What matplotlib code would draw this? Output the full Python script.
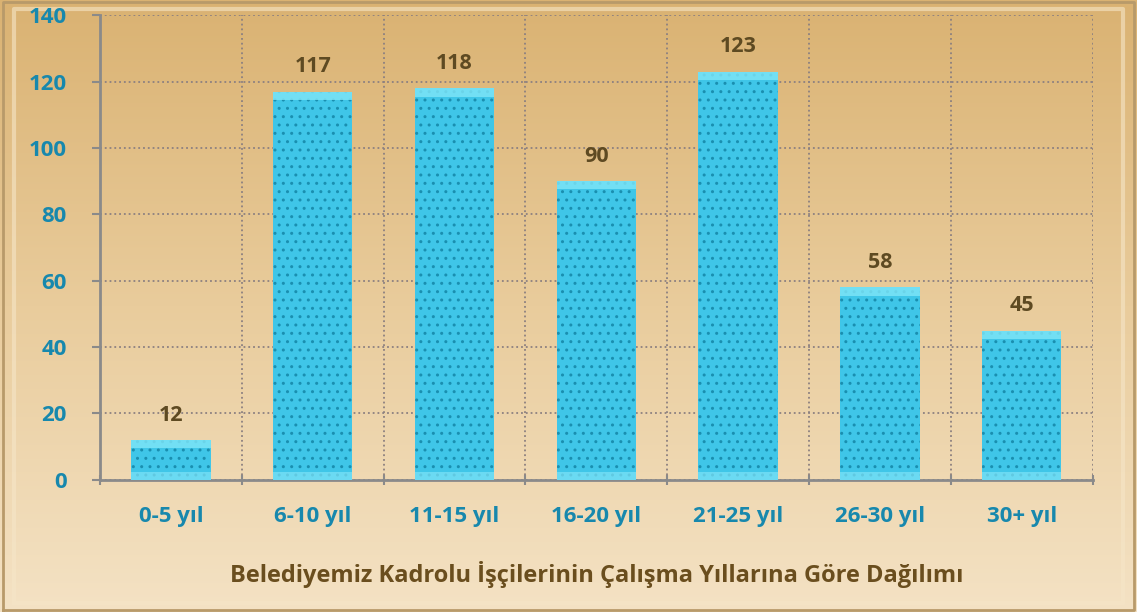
import matplotlib.pyplot as plt
import numpy as np
from matplotlib.colors import LinearSegmentedColormap

plt.rcParams['font.family'] = ['Open Sans', 'DejaVu Sans']

categories = ['0-5 yıl', '6-10 yıl', '11-15 yıl', '16-20 yıl', '21-25 yıl', '26-30 yıl', '30+ yıl']
values = [12, 117, 118, 90, 123, 58, 45]
title = 'Belediyemiz Kadrolu İşçilerinin Çalışma Yıllarına Göre Dağılımı'

fig = plt.figure(figsize=(11.37, 6.12), dpi=100)

# background: tan gradient, darker at top
bg = fig.add_axes([0, 0, 1, 1], zorder=-10)
grad = np.linspace(0, 1, 256).reshape(-1, 1)
cmap = LinearSegmentedColormap.from_list('tan', ['#dab272', '#e9cc9c', '#f4e2c4'])
bg.imshow(grad, aspect='auto', cmap=cmap, extent=[0, 1, 0, 1], origin='upper')
# bevel frame
bg.plot([0.003, 0.997, 0.997, 0.003, 0.003], [0.003, 0.003, 0.997, 0.997, 0.003],
        color='#b89a6a', lw=2)
bg.plot([0.012, 0.988, 0.988, 0.012, 0.012], [0.015, 0.015, 0.985, 0.985, 0.015],
        color='#f6e6c8', lw=3, alpha=0.6)
bg.set_xlim(0, 1)
bg.set_ylim(0, 1)
bg.axis('off')

ax = fig.add_axes([0.088, 0.216, 0.873, 0.759])
ax.patch.set_alpha(0)

x = np.arange(len(categories))
ax.bar(x, values, width=0.56, color='#3fc6e8', edgecolor='#1a8fb0',
       hatch='..', linewidth=0, zorder=3)
# lighter bevel strips at top and bottom of each bar
ax.bar(x, [min(2.5, v) for v in values], width=0.56, color='#7fe3f7', linewidth=0, zorder=4, alpha=0.7)
ax.bar(x, [2.5] * len(values), bottom=[v - 2.5 for v in values], width=0.56,
       color='#7fe6f8', linewidth=0, zorder=4, alpha=0.8)

for xi, v in zip(x, values):
    ax.text(xi, v + 7.5, str(v), ha='center', va='center', fontsize=15.5,
            fontweight='bold', color='#5e4a22')

ax.set_xlim(-0.5, len(categories) - 0.5)
ax.set_ylim(0, 140)
ax.set_yticks(np.arange(0, 141, 20))
ax.set_xticks(x)
ax.set_xticklabels(categories)
ax.set_xticks(np.arange(-0.5, len(categories)), minor=True)
ax.tick_params(axis='x', which='major', length=0, pad=19)
ax.tick_params(axis='x', which='minor', length=7, color='#8a8a8a', width=1.5, direction='inout')
ax.tick_params(axis='y', length=6, color='#8a8a8a', width=1.5, pad=18)
for lbl in ax.get_xticklabels() + ax.get_yticklabels():
    lbl.set_fontsize(16)
    lbl.set_fontweight('bold')
    lbl.set_color('#1788ad')

ax.grid(axis='y', which='major', linestyle=':', color='#8c8080', linewidth=1.3, zorder=1)
ax.grid(axis='x', which='minor', linestyle=':', color='#8c8080', linewidth=1.3, zorder=1)
ax.grid(axis='x', which='major', visible=False)

for side in ['top', 'right']:
    ax.spines[side].set_visible(False)
for side in ['left', 'bottom']:
    ax.spines[side].set_color('#8a8a8a')
    ax.spines[side].set_linewidth(2)

ax.set_xlabel(title, fontsize=17, fontweight='bold', color='#6a4e1e', labelpad=24)

fig.savefig('out.png', dpi=100)
